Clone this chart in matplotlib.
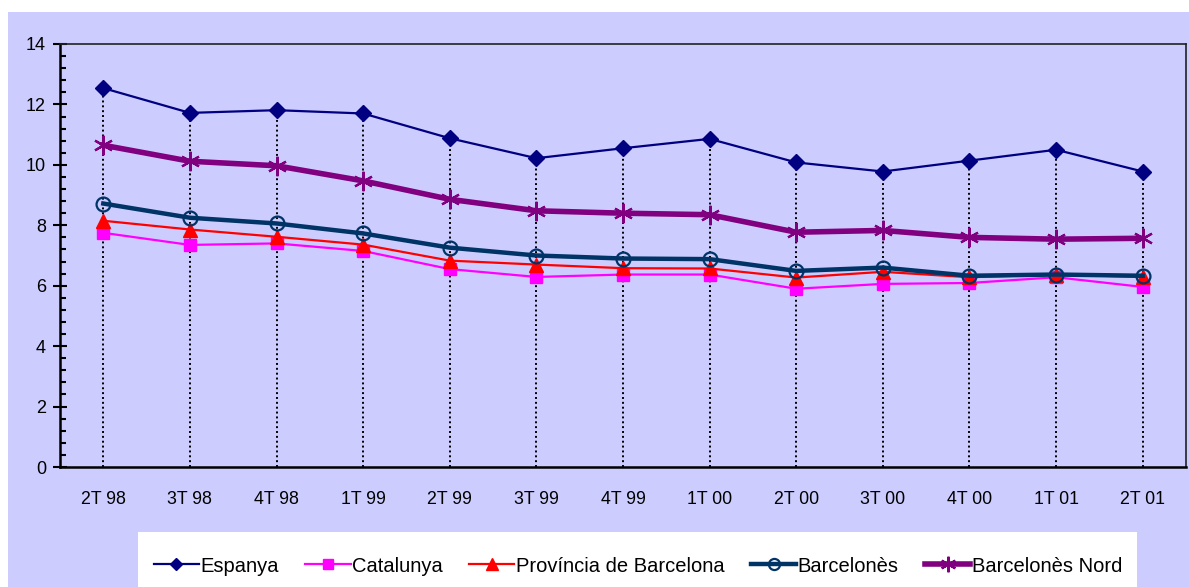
"""Quarterly rate by territory, 2T 98 - 2T 01 (Excel-style line chart)."""
import matplotlib
matplotlib.use('Agg')
import matplotlib.pyplot as plt
import matplotlib.ticker as ticker
from matplotlib.patches import Rectangle
import numpy as np

plt.rcParams['font.family'] = ['Liberation Sans', 'DejaVu Sans']

quarters = ['2T 98', '3T 98', '4T 98', '1T 99', '2T 99', '3T 99', '4T 99',
            '1T 00', '2T 00', '3T 00', '4T 00', '1T 01', '2T 01']

espanya = [12.54, 11.72, 11.81, 11.70, 10.88, 10.22, 10.55, 10.86, 10.08, 9.78, 10.14, 10.50, 9.78]
catalunya = [7.75, 7.35, 7.40, 7.15, 6.55, 6.29, 6.37, 6.37, 5.90, 6.06, 6.09, 6.28, 5.96]
provincia = [8.15, 7.86, 7.62, 7.36, 6.83, 6.70, 6.58, 6.57, 6.27, 6.46, 6.28, 6.37, 6.29]
barcelones = [8.72, 8.25, 8.06, 7.73, 7.26, 7.00, 6.90, 6.88, 6.49, 6.60, 6.33, 6.37, 6.33]
barcelones_nord = [10.65, 10.12, 9.97, 9.47, 8.86, 8.48, 8.40, 8.35, 7.77, 7.83, 7.60, 7.54, 7.57]

BG = '#CCCCFF'

fig = plt.figure(figsize=(11.89, 5.87), dpi=100, facecolor='white')
W, H = 1189, 587
# lavender chart area and white legend box (behind the axes)
fig.patches.append(Rectangle((8 / W, 0), 1181 / W, 575 / H, transform=fig.transFigure,
                             facecolor=BG, edgecolor='none', zorder=-3))
fig.patches.append(Rectangle((138 / W, 0), 999 / W, 55 / H, transform=fig.transFigure,
                             facecolor='white', edgecolor='none', zorder=-2))

ax = fig.add_axes([60 / W, 1 - 467 / H, (1186 - 60) / W, (467 - 44) / H])
ax.set_facecolor(BG)

x = np.arange(len(quarters))

# drop lines from the highest series to the axis
tops = np.max(np.vstack([espanya, catalunya, provincia, barcelones, barcelones_nord]), axis=0)
ax.vlines(x, 0, tops, colors='black', linestyles=(0, (1, 1.5)), linewidth=1.4, zorder=1)

ax.plot(x, espanya, color='#000080', linewidth=1.6, marker='D', markersize=8,
        markerfacecolor='#000080', markeredgecolor='#000080', label='Espanya', zorder=3)
ax.plot(x, catalunya, color='#FF00FF', linewidth=1.6, marker='s', markersize=9,
        markerfacecolor='#FF00FF', markeredgecolor='#FF00FF', label='Catalunya', zorder=3)
ax.plot(x, provincia, color='#FF0000', linewidth=1.6, marker='^', markersize=10,
        markerfacecolor='#FF0000', markeredgecolor='#FF0000', label='Província de Barcelona', zorder=3)
ax.plot(x, barcelones, color='#003366', linewidth=3.2, marker='o', markersize=10,
        markerfacecolor='none', markeredgecolor='#003366', markeredgewidth=1.6,
        label='Barcelonès', zorder=4)
ax.plot(x, barcelones_nord, color='#800080', linewidth=4, marker=(6, 2, 0), markersize=14,
        markeredgecolor='#800080', markeredgewidth=1.6, label='Barcelonès Nord', zorder=4)

ax.set_xlim(-0.5, len(quarters) - 0.5)
ax.set_ylim(0, 14)
ax.set_xticks(x)
ax.set_xticklabels(quarters)
ax.yaxis.set_major_locator(ticker.MultipleLocator(2))
ax.yaxis.set_minor_locator(ticker.AutoMinorLocator(5))
ax.tick_params(axis='x', length=0, pad=17, labelsize=12.8)
ax.tick_params(axis='y', which='major', direction='inout', length=10, width=1.5, pad=5, labelsize=13)
ax.tick_params(axis='y', which='minor', direction='in', length=4.5, width=1.5)
for side in ['left', 'bottom']:
    ax.spines[side].set_linewidth(1.8)
for side in ['top', 'right']:
    ax.spines[side].set_linewidth(1.2)
    ax.spines[side].set_color('#222222')

fig.legend(loc='center', bbox_to_anchor=(638 / W, 21 / H), ncol=5, frameon=False,
           fontsize=14.5, handlelength=2.25, handletextpad=0.08, columnspacing=1.3,
           markerscale=0.8)

fig.savefig('out.png', dpi=100, facecolor='white')
